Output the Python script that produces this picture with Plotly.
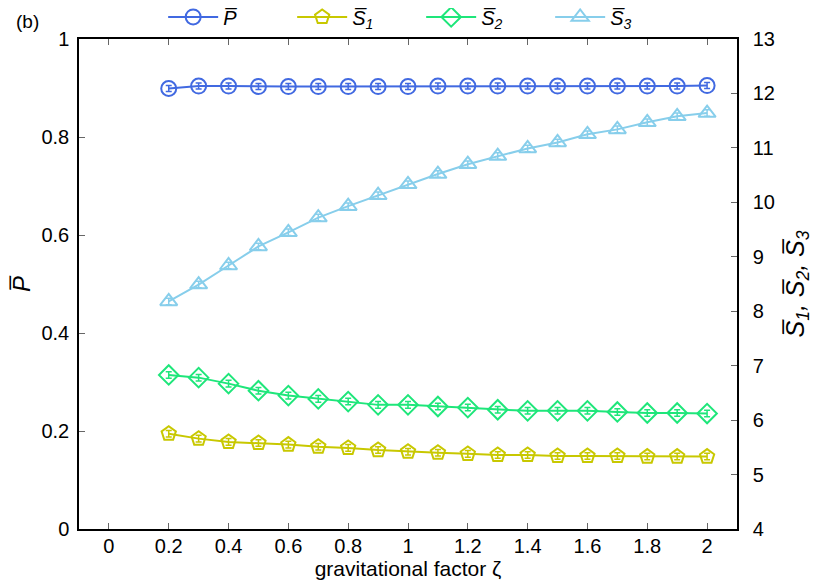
import plotly.graph_objects as go

zeta = [0.2, 0.3, 0.4, 0.5, 0.6, 0.7, 0.8, 0.9, 1.0, 1.1, 1.2, 1.3, 1.4, 1.5, 1.6, 1.7, 1.8, 1.9, 2.0]
P_mean = [0.899, 0.904, 0.904, 0.903, 0.903, 0.903, 0.903, 0.903, 0.903, 0.904, 0.904, 0.904, 0.904, 0.904, 0.904, 0.904, 0.904, 0.904, 0.905]
P_err = [0.006] * 19
S1_mean = [5.75, 5.66, 5.60, 5.58, 5.55, 5.51, 5.49, 5.45, 5.42, 5.40, 5.38, 5.36, 5.36, 5.34, 5.34, 5.34, 5.33, 5.33, 5.33]
S2_mean = [6.83, 6.78, 6.67, 6.54, 6.45, 6.39, 6.34, 6.28, 6.28, 6.25, 6.23, 6.19, 6.17, 6.17, 6.17, 6.15, 6.13, 6.13, 6.12]
S3_mean = [8.18, 8.49, 8.84, 9.19, 9.45, 9.72, 9.93, 10.13, 10.33, 10.52, 10.70, 10.85, 10.99, 11.10, 11.25, 11.34, 11.47, 11.58, 11.64]
S_err = [0.06] * 19

x_ticks = [0, 0.2, 0.4, 0.6, 0.8, 1, 1.2, 1.4, 1.6, 1.8, 2]
x_ticklabels = ["0", "0.2", "0.4", "0.6", "0.8", "1", "1.2", "1.4", "1.6", "1.8", "2"]
y_ticks = [0, 0.2, 0.4, 0.6, 0.8, 1]
y2_ticks = [4, 5, 6, 7, 8, 9, 10, 11, 12, 13]

FONT = "Liberation Sans, Arial, sans-serif"
OL = "\u0305"

fig = go.Figure()

def add(y, err, name, color, symbol, axis):
    fig.add_trace(go.Scatter(
        x=zeta, y=y, name=name, mode="lines+markers", yaxis=axis,
        line=dict(color=color, width=2),
        marker=dict(symbol=symbol, size=15, color=color,
                    line=dict(color=color, width=2)),
        error_y=dict(type="data", array=err, visible=True, color=color,
                     thickness=1.5, width=3),
    ))

add(P_mean, P_err, "<i>P" + OL + "</i>", "#4169e1", "circle-open", "y")
add(S1_mean, S_err, "<i>S" + OL + "<sub>1</sub></i>", "#c8c800", "pentagon-open", "y2")
add(S2_mean, S_err, "<i>S" + OL + "<sub>2</sub></i>", "#1ee67a", "diamond-open", "y2")
add(S3_mean, S_err, "<i>S" + OL + "<sub>3</sub></i>", "#87ceeb", "triangle-up-open", "y2")

axis_common = dict(showgrid=False, zeroline=False, showline=True, linecolor="black",
                   linewidth=1.5, ticks="inside", ticklen=6, tickwidth=1,
                   tickcolor="#666", automargin=False,
                   tickfont=dict(size=20, color="black", family=FONT))

fig.update_layout(
    width=822, height=573,
    margin=dict(l=71, r=93, t=31, b=52, autoexpand=False),
    paper_bgcolor="white", plot_bgcolor="white",
    font=dict(family=FONT, size=20, color="black"),
    xaxis=dict(range=[-0.1, 2.1], tickvals=x_ticks, ticktext=x_ticklabels,
               mirror="ticks", ticklabelstandoff=-2,
               title=dict(text="gravitational factor ζ", standoff=2,
                          font=dict(size=21)), **axis_common),
    yaxis=dict(range=[0, 1], tickvals=y_ticks, ticklabelstandoff=4,
               title=dict(text="<i>P" + OL + "</i>", standoff=18, font=dict(size=24)),
               **axis_common),
    yaxis2=dict(range=[4, 13], tickvals=y2_ticks, overlaying="y", side="right",
                ticklabelstandoff=10,
                title=dict(text="<i>S" + OL + "<sub>1</sub>, S" + OL + "<sub>2</sub>, S" + OL + "<sub>3</sub></i>",
                           standoff=12, font=dict(size=25)),
                **axis_common),
    legend=dict(orientation="h", x=0.52, xanchor="center", y=1.045, yanchor="middle",
                font=dict(size=20), bgcolor="rgba(0,0,0,0)", itemwidth=50,
                entrywidth=64, entrywidthmode="pixels",
                traceorder="normal"),
    showlegend=True,
    annotations=[dict(text="(b)", x=-0.079, y=1.06, xref="paper", yref="paper",
                      xanchor="center", yanchor="top", showarrow=False, borderpad=0,
                      font=dict(size=19))],
)

fig.write_html("out.html")
